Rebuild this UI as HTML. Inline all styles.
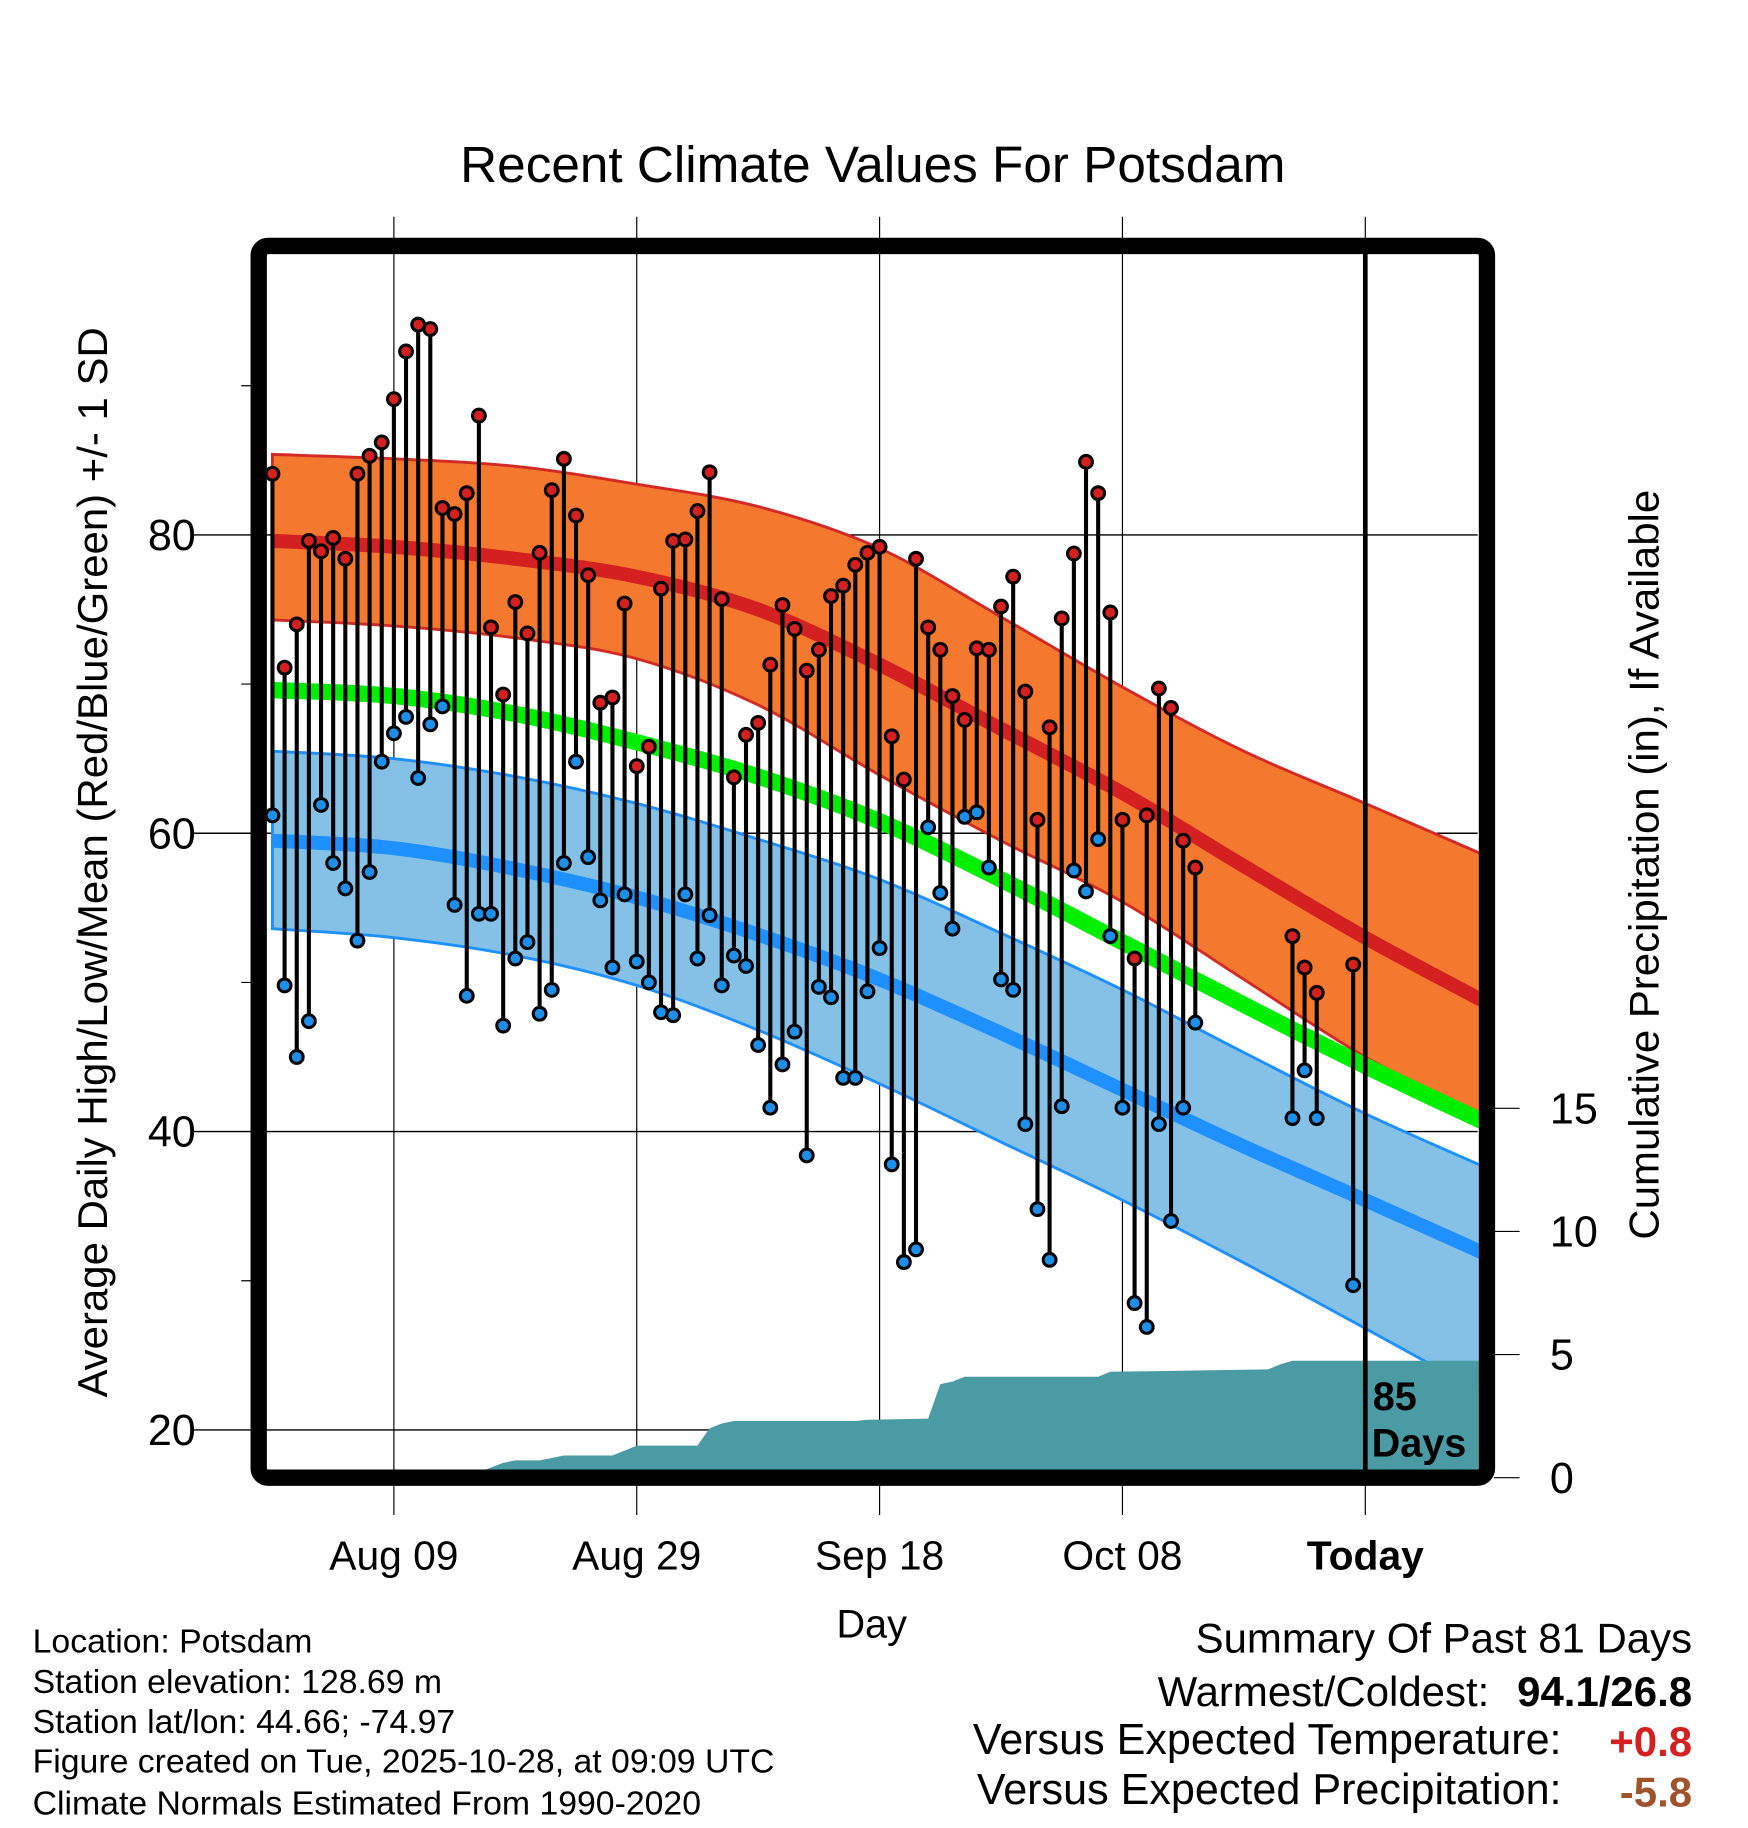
<!DOCTYPE html>
<html><head><meta charset="utf-8"><style>
html,body{margin:0;padding:0;background:#fff;}
svg{display:block;font-family:"Liberation Sans",sans-serif;}
</style></head><body>
<svg id="chart" width="1748" height="1828" viewBox="0 0 1500 1568.6" xmlns="http://www.w3.org/2000/svg">
<defs><clipPath id="plotclip"><rect x="229" y="218" width="1040" height="1043"/></clipPath></defs>
<rect x="0" y="0" width="1500" height="1569" fill="#fff"/>
<text x="749" y="156" font-size="44" text-anchor="middle">Recent Climate Values For Potsdam</text>
<g id="grid"></g>
<g id="plot" clip-path="url(#plotclip)"></g>
<g id="over"></g>
<text transform="translate(92,740) rotate(-90)" font-size="36" text-anchor="middle">Average Daily High/Low/Mean (Red/Blue/Green) +/- 1 SD</text>
<text transform="translate(1423,742) rotate(-90)" font-size="36" text-anchor="middle">Cumulative Precipitation (in), If Available</text>
<text x="748" y="1405" font-size="34" text-anchor="middle">Day</text>
<g font-size="29">
<text x="28" y="1418">Location: Potsdam</text>
<text x="28" y="1453">Station elevation: 128.69 m</text>
<text x="28" y="1487">Station lat/lon: 44.66; -74.97</text>
<text x="28" y="1521">Figure created on Tue, 2025-10-28, at 09:09 UTC</text>
<text x="28" y="1557">Climate Normals Estimated From 1990-2020</text>
</g>
<g font-size="36">
<text x="1452" y="1418" text-anchor="end">Summary Of Past 81 Days</text>
<text x="1278" y="1464" text-anchor="end">Warmest/Coldest:</text>
<text x="1452" y="1464" text-anchor="end" font-weight="bold">94.1/26.8</text>
<text x="1340" y="1505" text-anchor="end" font-size="37">Versus Expected Temperature:</text>
<text x="1452" y="1507" text-anchor="end" font-weight="bold" fill="#d42020">+0.8</text>
<text x="1340" y="1548" text-anchor="end" font-size="37">Versus Expected Precipitation:</text>
<text x="1452" y="1550" text-anchor="end" font-weight="bold" fill="#a0522d">-5.8</text>
</g>
</svg>
<script>
// ---- data ----
const normDays = [0,10,20,30,40,50,60,70,80,90,99.6];
const normHighTop = [85.4,85.1,84.6,83.4,81.9,79.1,74.5,69.8,65.5,62.0,58.6];
const normHigh    = [79.6,79.2,78.4,77.2,75.0,71.3,67.0,62.7,57.8,53.0,48.8];
const normHighBot = [74.3,73.9,73.1,71.7,68.6,63.9,59.5,55.4,50.2,45.0,41.0];
const normMean    = [69.6,69.2,68.0,66.1,63.8,60.8,56.9,52.7,48.5,44.4,40.7];
const normLowTop  = [65.5,65.0,63.8,62.0,59.6,56.9,53.3,49.5,45.3,41.2,37.7];
const normLow     = [59.5,59.0,57.6,55.7,53.2,50.2,46.6,42.8,39.0,35.4,31.9];
const normLowBot  = [53.6,53.0,51.8,49.8,46.8,43.2,39.3,35.4,31.2,26.8,22.5];
const obsDays = [0,1,2,3,4,5,6,7,8,9,10,11,12,13,14,15,16,17,18,19,20,21,22,23,24,25,26,27,28,29,30,31,32,33,34,35,36,37,38,39,40,41,42,43,44,45,46,47,48,49,50,51,52,53,54,55,56,57,58,59,60,61,62,63,64,65,66,67,68,69,70,71,72,73,74,75,76,84,85,86,89];
const highs = [84.1,71.1,74,79.6,78.9,79.8,78.4,84.1,85.3,86.2,89.1,92.3,94.1,93.8,81.8,81.4,82.8,88.0,73.8,69.3,75.5,73.4,78.8,83,85.1,81.3,77.3,68.75,69.1,75.4,64.5,65.8,76.4,79.6,79.7,81.6,84.2,75.7,63.75,66.6,67.4,71.3,75.3,73.7,70.9,72.3,75.9,76.6,78,78.8,79.2,66.5,63.6,78.4,73.8,72.3,69.2,67.6,72.4,72.3,75.2,77.2,69.5,60.9,67.1,74.4,78.75,84.9,82.8,74.8,60.9,51.6,61.2,69.7,68.4,59.5,57.7,53.1,51,49.3,51.2];
const lows = [61.2,49.8,45,47.4,61.9,58,56.3,52.8,57.4,64.8,66.7,67.8,63.7,67.3,68.5,55.2,49.1,54.6,54.6,47.1,51.6,52.7,47.9,49.5,58,64.8,58.4,55.5,51,55.9,51.4,50,48,47.8,55.9,51.6,54.5,49.8,51.8,51.1,45.8,41.6,44.5,46.7,38.4,49.7,49,43.6,43.6,49.4,52.3,37.8,31.25,32.1,60.4,56,53.6,61.1,61.4,57.7,50.2,49.5,40.5,34.8,31.4,41.7,57.5,56.1,59.6,53.1,41.6,28.5,26.9,40.5,34,41.6,47.3,40.9,44.1,40.9,29.7];
const precipDays = [0,17,17.4,19,20,22,23,24,28,29,30,35,36,37,38,48,49,54,55,56,57,68,69,76,82,83,84,99.6];
const precipCum  = [0,0,0.3,0.6,0.7,0.7,0.8,0.9,0.9,1.1,1.3,1.3,2.0,2.2,2.3,2.3,2.35,2.4,3.8,3.9,4.1,4.1,4.3,4.35,4.4,4.6,4.75,4.75];
const dateTickDays = [10,30,50,70,90];
const dateTickLabels = ["Aug 09","Aug 29","Sep 18","Oct 08","Today"];
const yTicks = [20,40,60,80];
const yMinor = [30,50,70,90];
const pTicks = [0,5,10,15];

// ---- scales ----
const X = d => 338 + (d - 10) * 10.42;
const Y = v => 459 + (80 - v) * 12.8;
const P = p => 1268 - p * 21.13;
const NS = "http://www.w3.org/2000/svg";
function mk(tag, attrs, parent){const e=document.createElementNS(NS,tag);for(const k in attrs)e.setAttribute(k,attrs[k]);parent.appendChild(e);return e;}
function smooth(pts){
  let d=`M${pts[0][0]},${pts[0][1]}`;
  for(let i=0;i<pts.length-1;i++){
    const p0=pts[Math.max(0,i-1)],p1=pts[i],p2=pts[i+1],p3=pts[Math.min(pts.length-1,i+2)];
    d+=` C${p1[0]+(p2[0]-p0[0])/6},${p1[1]+(p2[1]-p0[1])/6} ${p2[0]-(p3[0]-p1[0])/6},${p2[1]-(p3[1]-p1[1])/6} ${p2[0]},${p2[1]}`;
  }
  return d;
}
function curvePts(arr){return normDays.map((d,i)=>[X(d),Y(arr[i])]);}
function bandPath(top,bot){
  const t=curvePts(top), b=curvePts(bot).reverse();
  return smooth(t)+" L"+smooth(b).slice(1)+" Z";
}
const grid=document.getElementById('grid'), plot=document.getElementById('plot'), over=document.getElementById('over');

dateTickDays.forEach((d,i)=>{
  const l=mk('line',{x1:X(d),x2:X(d),y1:186,y2:1300,stroke:'#000','stroke-width':1},grid);
  
  
  const t=mk('text',{x:X(d),y:1347,'font-size':35,'text-anchor':'middle'},grid);
  if(dateTickLabels[i]==='Today') t.setAttribute('font-weight','bold');
  t.textContent=dateTickLabels[i];
  
  
});
yTicks.forEach(v=>{
  const l=mk('line',{x1:165,x2:1268,y1:Y(v),y2:Y(v),stroke:'#000','stroke-width':1.2},grid);
  
  
  const t=mk('text',{x:168,y:Y(v)+13,'font-size':37,'text-anchor':'end'},grid);
  t.textContent=v;
  
  
});
yMinor.forEach(v=>{
  const l=mk('line',{x1:207,x2:222,y1:Y(v),y2:Y(v),stroke:'#000','stroke-width':1},grid);
  
  
});
pTicks.forEach(p=>{
  const l=mk('line',{x1:1282,x2:1304,y1:P(p),y2:P(p),stroke:'#000','stroke-width':1},grid);
  
  
  const t=mk('text',{x:1330,y:P(p)+13,'font-size':37},grid);
  t.textContent=p;
  
  
});

let e;
e=mk('path',{d:bandPath(normHighTop,normHighBot),fill:'#f4792f',stroke:'#d42a25','stroke-width':2.5},plot);


e=mk('path',{d:bandPath(normLowTop,normLowBot),fill:'#85c1e7',stroke:'#1e90ff','stroke-width':2.5},plot);


e=mk('path',{d:smooth(curvePts(normHigh)),fill:'none',stroke:'#d42020','stroke-width':12},plot);


e=mk('path',{d:smooth(curvePts(normMean)),fill:'none',stroke:'#00ee00','stroke-width':14},plot);


e=mk('path',{d:smooth(curvePts(normLow)),fill:'none',stroke:'#1e90ff','stroke-width':12},plot);


let pd=`M${X(precipDays[0])},1270`;
precipDays.forEach((d,i)=>{pd+=` L${X(d)},${P(precipCum[i])}`;});
pd+=` L${X(precipDays[precipDays.length-1])},1270 Z`;
e=mk('path',{d:pd,fill:'#4a9ba4'},plot);


obsDays.forEach((d,i)=>{
  const s=mk('line',{x1:X(d),x2:X(d),y1:Y(highs[i]),y2:Y(lows[i]),stroke:'#000','stroke-width':3.5},plot);
  
  
});
obsDays.forEach((d,i)=>{
  const h=mk('circle',{cx:X(d),cy:Y(highs[i]),r:5.5,fill:'#d42020',stroke:'#000','stroke-width':2.6},plot);
  
  
  const l=mk('circle',{cx:X(d),cy:Y(lows[i]),r:5.5,fill:'#1e8fe8',stroke:'#000','stroke-width':2.6},plot);
  
  
});
e=mk('line',{x1:X(90),x2:X(90),y1:212,y2:1268,stroke:'#000','stroke-width':4},over);


e=mk('text',{x:1178,y:1210,'font-size':34,'font-weight':'bold'},over);
e.textContent='85';


e=mk('text',{x:1177,y:1250,'font-size':34,'font-weight':'bold'},over);
e.textContent='Days';


e=mk('rect',{x:222,y:211,width:1054,height:1057,rx:8,fill:'none',stroke:'#000','stroke-width':14},over);


</script>
</body></html>
